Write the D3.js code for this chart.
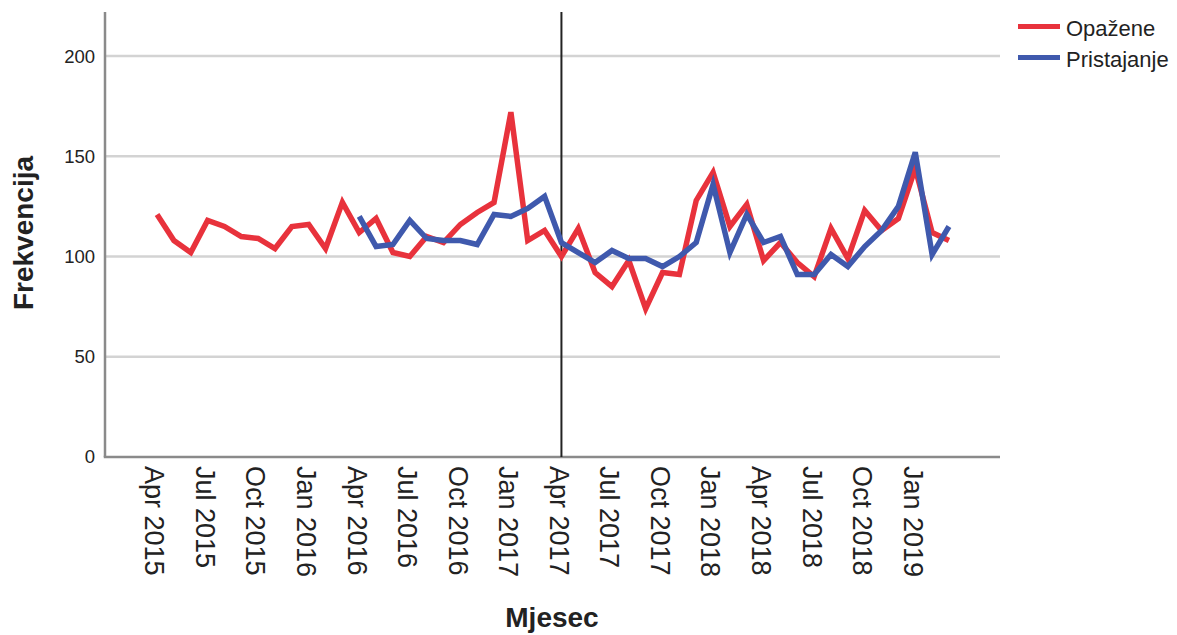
<!DOCTYPE html>
<html>
<head>
<meta charset="utf-8">
<script src="https://cdn.jsdelivr.net/npm/d3@7"></script>
<style>
  body { margin: 0; background: #fff; }
  #chart { width: 1177px; height: 635px; }
  text { font-family: "Liberation Sans", Arial, sans-serif; fill: #222; }
</style>
</head>
<body>
<div id="chart"></div>
<script>
// months Apr 2015 .. Mar 2019 (index 0..47)
const monthIndex = d3.range(48);

const opazene = [121, 108, 102, 118, 115, 110, 109, 104, 115, 116, 104, 127,
                 112, 119, 102, 100, 110, 107, 116, 122, 127, 172, 108, 113,
                 100, 114, 92, 85, 98, 74, 92, 91, 128, 142, 115, 126,
                 98, 107, 97, 90, 114, 99, 123, 113, 119, 144, 112, 108];

// fit starts at Apr 2016 (index 12)
const pristajanje = [null, null, null, null, null, null, null, null, null, null, null, null,
                     120, 105, 106, 118, 109, 108, 108, 106, 121, 120, 124, 130,
                     107, 102, 97, 103, 99, 99, 95, 100, 107, 136, 102, 121,
                     107, 110, 91, 91, 101, 95, 105, 113, 125, 152, 101, 115];

const tickIndex = [0, 3, 6, 9, 12, 15, 18, 21, 24, 27, 30, 33, 36, 39, 42, 45];
const tickLabels = ["Apr 2015", "Jul 2015", "Oct 2015", "Jan 2016", "Apr 2016", "Jul 2016",
                    "Oct 2016", "Jan 2017", "Apr 2017", "Jul 2017", "Oct 2017", "Jan 2018",
                    "Apr 2018", "Jul 2018", "Oct 2018", "Jan 2019"];
const yTicks = [0, 50, 100, 150, 200];
const refLineIndex = 24; // Apr 2017

const seriesNames = ["Opažene", "Pristajanje"];
const colors = ["#e8323c", "#3f59ad"];

const width = 1177, height = 635;
const margin = {top: 12, left: 105, right: 177, bottom: 179};

const svg = d3.select("#chart")
    .append("svg")
    .attr("width", width)
    .attr("height", height);

/*
SCALES
*/
const xScale = d3.scaleLinear()
    .domain([-3.09, 50.03])
    .range([margin.left, width - margin.right]);

const yScale = d3.scaleLinear()
    .domain([0, 222])
    .range([height - margin.bottom + 1, margin.top]);

/*
GRID
*/
svg.append("g")
    .selectAll("line")
    .data(yTicks.filter(d => d > 0))
    .enter()
    .append("line")
        .attr("x1", margin.left)
        .attr("x2", width - margin.right)
        .attr("y1", d => yScale(d))
        .attr("y2", d => yScale(d))
        .attr("stroke", "#d3d3d3")
        .attr("stroke-width", 2.5);

/*
AXES
*/
const yAxis = svg.append("g")
    .attr("transform", `translate(${margin.left},0)`)
    .call(d3.axisLeft(yScale).tickValues(yTicks).tickSize(0).tickPadding(10));
yAxis.select(".domain").remove();
yAxis.selectAll("text")
    .style("font-size", "18.5px")
    .style("font-family", "Liberation Sans, Arial, sans-serif")
    .attr("fill", "#222");

const xAxis = svg.append("g")
    .attr("transform", `translate(0,${yScale(0)})`)
    .call(d3.axisBottom(xScale).tickValues(tickIndex).tickSize(0).tickFormat((d, i) => tickLabels[i]));
xAxis.select(".domain").remove();
xAxis.selectAll("text")
    .style("font-size", "27px")
    .style("font-family", "Liberation Sans, Arial, sans-serif")
    .attr("fill", "#222")
    .attr("text-anchor", "start")
    .attr("transform", "translate(0,9) rotate(90)")
    .attr("x", 0)
    .attr("y", 0)
    .attr("dy", "0.45em");

// axis lines
svg.append("line")
    .attr("x1", margin.left).attr("x2", margin.left)
    .attr("y1", margin.top).attr("y2", yScale(0))
    .attr("stroke", "#8a8a8a").attr("stroke-width", 2.5);
svg.append("line")
    .attr("x1", margin.left - 1.25).attr("x2", width - margin.right)
    .attr("y1", yScale(0)).attr("y2", yScale(0))
    .attr("stroke", "#8a8a8a").attr("stroke-width", 2.5);

// reference line
svg.append("line")
    .attr("x1", xScale(refLineIndex)).attr("x2", xScale(refLineIndex))
    .attr("y1", margin.top).attr("y2", yScale(0))
    .attr("stroke", "#222").attr("stroke-width", 2);

/*
LINES
*/
const line = d3.line()
    .defined(d => d.v !== null)
    .x(d => xScale(d.i))
    .y(d => yScale(d.v));

[opazene, pristajanje].forEach(function(values, k) {
    svg.append("path")
        .datum(monthIndex.map(i => ({i: i, v: values[i]})))
        .attr("d", line)
        .attr("fill", "none")
        .attr("stroke", colors[k])
        .attr("stroke-width", 5.5)
        .attr("stroke-linejoin", "miter");
});

/*
AXIS TITLES
*/
svg.append("text")
    .attr("x", 552)
    .attr("y", 627)
    .attr("text-anchor", "middle")
    .style("font-size", "28px")
    .style("font-weight", "bold")
    .text("Mjesec");

svg.append("text")
    .attr("transform", "translate(33,233) rotate(-90)")
    .attr("text-anchor", "middle")
    .style("font-size", "28px")
    .style("font-weight", "bold")
    .text("Frekvencija");

/*
LEGEND
*/
const legend = svg.append("g");
seriesNames.forEach(function(name, k) {
    const ly = 26.5 + k * 31;
    legend.append("line")
        .attr("x1", 1018).attr("x2", 1060)
        .attr("y1", ly).attr("y2", ly)
        .attr("stroke", colors[k])
        .attr("stroke-width", 5);
    legend.append("text")
        .attr("x", 1066)
        .attr("y", ly + 9)
        .style("font-size", "22px")
        .text(name);
});
</script>
</body>
</html>
